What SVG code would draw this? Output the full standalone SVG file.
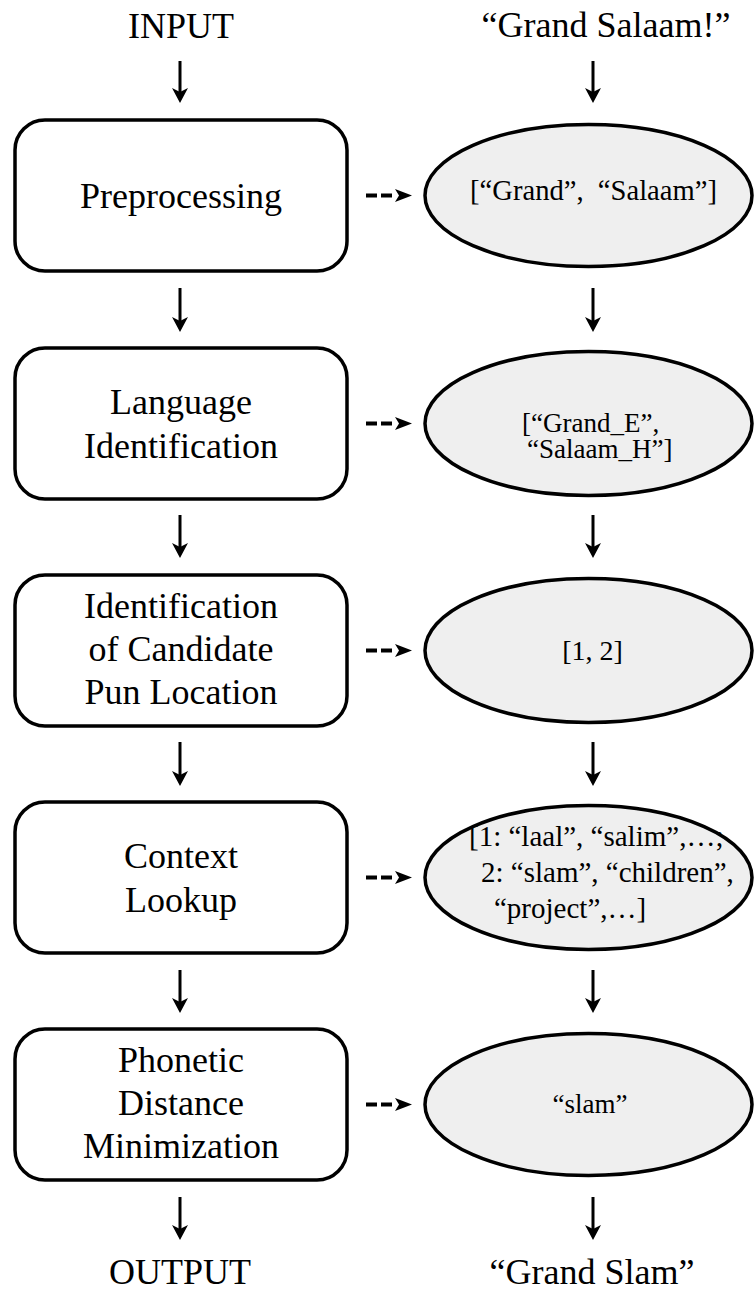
<svg xmlns="http://www.w3.org/2000/svg" width="755" height="1293" viewBox="0 0 755 1293">
  <style>
    text { font-family: "Liberation Serif", "Times New Roman", serif; fill: #000; }
    .big { font-size: 36px; text-anchor: middle; }
    .step { fill: #fff; stroke: #000; stroke-width: 3.5; }
    .data { fill: #efefef; stroke: #000; stroke-width: 3.5; }
    .stem { stroke: #000; stroke-width: 3; fill: none; }
    .dash { stroke: #000; stroke-width: 4; fill: none; stroke-dasharray: 11 4; }
    .head { fill: #000; stroke: none; }
  </style>
  <defs>
    <!-- filled arrowhead pointing down, tip at origin -->
    <path id="headDown" class="head" d="M -8 -15 L 0 0 L 8 -15 L 0 -11 Z"/>
    <!-- filled arrowhead pointing right, tip at origin -->
    <path id="headRight" class="head" d="M -17 -6.5 L 0 0 L -17 6.5 L -13 0 Z"/>
  </defs>

  <!-- terminal labels -->
  <g id="input">
    <text class="big" x="181" y="38">INPUT</text>
  </g>
  <g id="input-example">
    <text class="big" x="606" y="37" font-size="34">“Grand Salaam!”</text>
  </g>
  <g id="output">
    <text class="big" x="180" y="1284">OUTPUT</text>
  </g>
  <g id="output-example">
    <text class="big" x="592" y="1284">“Grand Slam”</text>
  </g>

  <!-- processing steps -->
  <g id="step-preprocessing">
    <rect class="step" x="15" y="120" width="332" height="151" rx="30"/>
    <text class="big" x="181" y="208">Preprocessing</text>
  </g>
  <g id="step-language-id">
    <rect class="step" x="15" y="348" width="332" height="151" rx="30"/>
    <text class="big" x="181" y="413.5">Language</text>
    <text class="big" x="181" y="457.5">Identification</text>
  </g>
  <g id="step-candidate-location">
    <rect class="step" x="15" y="575" width="332" height="151" rx="30"/>
    <text class="big" x="181" y="617.5">Identification</text>
    <text class="big" x="181" y="660.5">of Candidate</text>
    <text class="big" x="181" y="703.5">Pun Location</text>
  </g>
  <g id="step-context-lookup">
    <rect class="step" x="15" y="802" width="332" height="151" rx="30"/>
    <text class="big" x="181" y="867.5">Context</text>
    <text class="big" x="181" y="911.5">Lookup</text>
  </g>
  <g id="step-phonetic">
    <rect class="step" x="15" y="1029" width="332" height="151" rx="30"/>
    <text class="big" x="181" y="1071.5">Phonetic</text>
    <text class="big" x="181" y="1114.5">Distance</text>
    <text class="big" x="181" y="1157.5">Minimization</text>
  </g>

  <!-- intermediate results -->
  <g id="result-tokens">
    <ellipse class="data" cx="588.5" cy="195.5" rx="163.5" ry="71"/>
    <text x="593.5" y="200" font-size="28.6" text-anchor="middle" xml:space="preserve">[“Grand”,  “Salaam”]</text>
  </g>
  <g id="result-language">
    <ellipse class="data" cx="588.5" cy="423.5" rx="163.5" ry="72"/>
    <text x="522" y="432" font-size="27">[“Grand_E”,</text>
    <text x="527" y="458" font-size="27">“Salaam_H”]</text>
  </g>
  <g id="result-locations">
    <ellipse class="data" cx="588.5" cy="650.5" rx="163.5" ry="72"/>
    <text x="592.5" y="660" font-size="28" text-anchor="middle">[1, 2]</text>
  </g>
  <g id="result-context">
    <ellipse class="data" cx="588.5" cy="877.5" rx="163.5" ry="72"/>
    <text x="469" y="846" font-size="29">[1: “laal”, “salim”,…;</text>
    <text x="481" y="882" font-size="29">2: “slam”, “children”,</text>
    <text x="494" y="918" font-size="29">“project”,…]</text>
  </g>
  <g id="result-best">
    <ellipse class="data" cx="588.5" cy="1104.5" rx="163.5" ry="71"/>
    <text x="590" y="1113" font-size="27" text-anchor="middle">“slam”</text>
  </g>

  <!-- connectors -->
  <g id="connectors">
    <!-- left column: pipeline flow -->
    <line class="stem" x1="180" y1="61" x2="180" y2="93"/>
    <use href="#headDown" x="180" y="103"/>
    <line class="stem" x1="180" y1="288" x2="180" y2="322"/>
    <use href="#headDown" x="180" y="332"/>
    <line class="stem" x1="180" y1="515" x2="180" y2="548"/>
    <use href="#headDown" x="180" y="558"/>
    <line class="stem" x1="180" y1="742" x2="180" y2="776"/>
    <use href="#headDown" x="180" y="786"/>
    <line class="stem" x1="180" y1="970" x2="180" y2="1003"/>
    <use href="#headDown" x="180" y="1013"/>
    <line class="stem" x1="180" y1="1197" x2="180" y2="1230"/>
    <use href="#headDown" x="180" y="1240"/>

    <!-- right column: example flow -->
    <line class="stem" x1="593" y1="61" x2="593" y2="93"/>
    <use href="#headDown" x="593" y="103"/>
    <line class="stem" x1="593" y1="288" x2="593" y2="322"/>
    <use href="#headDown" x="593" y="332"/>
    <line class="stem" x1="593" y1="515" x2="593" y2="548"/>
    <use href="#headDown" x="593" y="558"/>
    <line class="stem" x1="593" y1="742" x2="593" y2="776"/>
    <use href="#headDown" x="593" y="786"/>
    <line class="stem" x1="593" y1="970" x2="593" y2="1003"/>
    <use href="#headDown" x="593" y="1013"/>
    <line class="stem" x1="593" y1="1197" x2="593" y2="1230"/>
    <use href="#headDown" x="593" y="1240"/>

    <!-- dashed links from each step to its output -->
    <line class="dash" x1="366" y1="195.5" x2="392" y2="195.5"/>
    <use href="#headRight" x="412" y="195.5"/>
    <line class="dash" x1="366" y1="423.5" x2="392" y2="423.5"/>
    <use href="#headRight" x="412" y="423.5"/>
    <line class="dash" x1="366" y1="650.5" x2="392" y2="650.5"/>
    <use href="#headRight" x="412" y="650.5"/>
    <line class="dash" x1="366" y1="877.5" x2="392" y2="877.5"/>
    <use href="#headRight" x="412" y="877.5"/>
    <line class="dash" x1="366" y1="1104.5" x2="392" y2="1104.5"/>
    <use href="#headRight" x="412" y="1104.5"/>
  </g>
</svg>
